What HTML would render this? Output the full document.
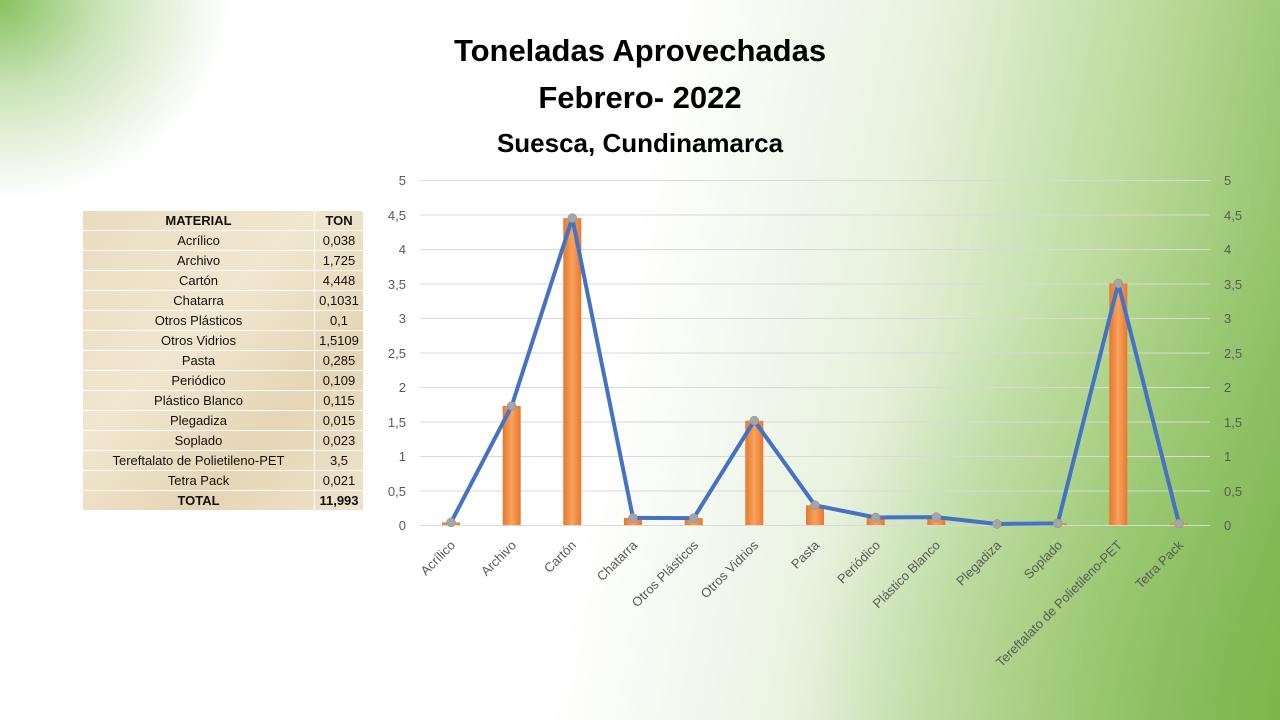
<!DOCTYPE html>
<html><head><meta charset="utf-8"><style>
body{margin:0;width:1280px;height:720px;overflow:hidden;font-family:"Liberation Sans",sans-serif;
background:
radial-gradient(ellipse 230px 200px at 0px 0px,#86c260 0%,rgba(170,210,140,0.6) 45%,rgba(255,255,255,0) 100%),
radial-gradient(ellipse 500px 500px at 1280px 720px,rgba(120,180,70,0.6) 0%,rgba(255,255,255,0) 100%),
linear-gradient(100deg,#ffffff 0%,#ffffff 48%,#e8f2df 66%,#bcdb9c 82%,#82b955 100%);}
.t{position:absolute;left:0;width:1280px;text-align:center;font-weight:bold;color:#000;}
table{position:absolute;left:82px;top:210px;border-collapse:collapse;font-size:13px;color:#111;
background:linear-gradient(135deg,#eadcc0,#f1e6cf 40%,#e5d5b5 70%,#efe3ca);}
td{height:19px;padding:0 3px;border:1px solid #fff;text-align:center;line-height:19px}
td:first-child{width:225px}
td:last-child{width:42px}
</style></head><body>
<div class="t" style="top:33px;font-size:31px;left:0">Toneladas Aprovechadas</div>
<div class="t" style="top:80px;font-size:31px">Febrero- 2022</div>
<div class="t" style="top:128px;font-size:26px">Suesca, Cundinamarca</div>
<table>
<tr><td><b>MATERIAL</b></td><td><b>TON</b></td></tr>
<tr><td>Acrílico</td><td>0,038</td></tr>
<tr><td>Archivo</td><td>1,725</td></tr>
<tr><td>Cartón</td><td>4,448</td></tr>
<tr><td>Chatarra</td><td>0,1031</td></tr>
<tr><td>Otros Plásticos</td><td>0,1</td></tr>
<tr><td>Otros Vidrios</td><td>1,5109</td></tr>
<tr><td>Pasta</td><td>0,285</td></tr>
<tr><td>Periódico</td><td>0,109</td></tr>
<tr><td>Plástico Blanco</td><td>0,115</td></tr>
<tr><td>Plegadiza</td><td>0,015</td></tr>
<tr><td>Soplado</td><td>0,023</td></tr>
<tr><td>Tereftalato de Polietileno-PET</td><td>3,5</td></tr>
<tr><td>Tetra Pack</td><td>0,021</td></tr>
<tr><td><b>TOTAL</b></td><td><b>11,993</b></td></tr>
</table>
<svg width="1280" height="720" style="position:absolute;left:0;top:0">
<defs><linearGradient id="b" x1="0" x2="1"><stop offset="0" stop-color="#e8772e"/><stop offset="0.5" stop-color="#f7a35c"/><stop offset="1" stop-color="#e8772e"/></linearGradient></defs>
<g stroke="#d9d9d9" stroke-width="1">
<line x1="420" x2="1210" y1="180.5" y2="180.5"/><line x1="420" x2="1210" y1="215" y2="215"/>
<line x1="420" x2="1210" y1="249.5" y2="249.5"/><line x1="420" x2="1210" y1="284" y2="284"/>
<line x1="420" x2="1210" y1="318.5" y2="318.5"/><line x1="420" x2="1210" y1="353" y2="353"/>
<line x1="420" x2="1210" y1="387.5" y2="387.5"/><line x1="420" x2="1210" y1="422" y2="422"/>
<line x1="420" x2="1210" y1="456.5" y2="456.5"/><line x1="420" x2="1210" y1="491" y2="491"/>
<line x1="420" x2="1210" y1="525.5" y2="525.5"/>
</g>
<g font-size="13" fill="#595959">
<g text-anchor="end"><text x="406" y="185">5</text><text x="406" y="220">4,5</text><text x="406" y="254">4</text><text x="406" y="289">3,5</text><text x="406" y="323">3</text><text x="406" y="358">2,5</text><text x="406" y="392">2</text><text x="406" y="427">1,5</text><text x="406" y="461">1</text><text x="406" y="496">0,5</text><text x="406" y="530">0</text></g>
<g><text x="1224" y="185">5</text><text x="1224" y="220">4,5</text><text x="1224" y="254">4</text><text x="1224" y="289">3,5</text><text x="1224" y="323">3</text><text x="1224" y="358">2,5</text><text x="1224" y="392">2</text><text x="1224" y="427">1,5</text><text x="1224" y="461">1</text><text x="1224" y="496">0,5</text><text x="1224" y="530">0</text></g>
</g>
<g fill="url(#b)">
<rect x="442" y="522.4" width="18" height="2.6"/>
<rect x="502.7" y="406" width="18" height="119"/>
<rect x="563.3" y="218.1" width="18" height="306.9"/>
<rect x="624" y="517.9" width="18" height="7.1"/>
<rect x="684.7" y="518.1" width="18" height="6.9"/>
<rect x="745.3" y="420.7" width="18" height="104.3"/>
<rect x="806" y="505.3" width="18" height="19.7"/>
<rect x="866.7" y="517.5" width="18" height="7.5"/>
<rect x="927.3" y="517.1" width="18" height="7.9"/>
<rect x="988" y="524" width="18" height="1"/>
<rect x="1048.7" y="523.4" width="18" height="1.6"/>
<rect x="1109.3" y="283.5" width="18" height="241.5"/>
<rect x="1170" y="523.6" width="18" height="1.4"/>
</g>
<polyline fill="none" stroke="#4472c4" stroke-width="4" stroke-linejoin="round" points="451,522.4 511.7,406 572.3,218.1 633,517.9 693.7,518.1 754.3,420.7 815,505.3 875.7,517.5 936.3,517.1 997,524 1057.7,523.4 1118.3,283.5 1179,523.6"/>
<g fill="#a5a5a5" stroke="#8c8c8c" stroke-width="0.5">
<circle cx="451" cy="522.4" r="4.5"/><circle cx="511.7" cy="406" r="4.5"/><circle cx="572.3" cy="218.1" r="4.5"/><circle cx="633" cy="517.9" r="4.5"/><circle cx="693.7" cy="518.1" r="4.5"/><circle cx="754.3" cy="420.7" r="4.5"/><circle cx="815" cy="505.3" r="4.5"/><circle cx="875.7" cy="517.5" r="4.5"/><circle cx="936.3" cy="517.1" r="4.5"/><circle cx="997" cy="524" r="4.5"/><circle cx="1057.7" cy="523.4" r="4.5"/><circle cx="1118.3" cy="283.5" r="4.5"/><circle cx="1179" cy="523.6" r="4.5"/>
</g>
<g font-size="13" fill="#595959" text-anchor="end">
<text transform="translate(456,546) rotate(-45)">Acrílico</text>
<text transform="translate(517,546) rotate(-45)">Archivo</text>
<text transform="translate(577,546) rotate(-45)">Cartón</text>
<text transform="translate(638,546) rotate(-45)">Chatarra</text>
<text transform="translate(699,546) rotate(-45)">Otros Plásticos</text>
<text transform="translate(759,546) rotate(-45)">Otros Vidrios</text>
<text transform="translate(820,546) rotate(-45)">Pasta</text>
<text transform="translate(881,546) rotate(-45)">Periódico</text>
<text transform="translate(941,546) rotate(-45)">Plástico Blanco</text>
<text transform="translate(1002,546) rotate(-45)">Plegadiza</text>
<text transform="translate(1063,546) rotate(-45)">Soplado</text>
<text transform="translate(1123,546) rotate(-45)">Tereftalato de Polietileno-PET</text>
<text transform="translate(1184,546) rotate(-45)">Tetra Pack</text>
</g>
</svg>
</body></html>
